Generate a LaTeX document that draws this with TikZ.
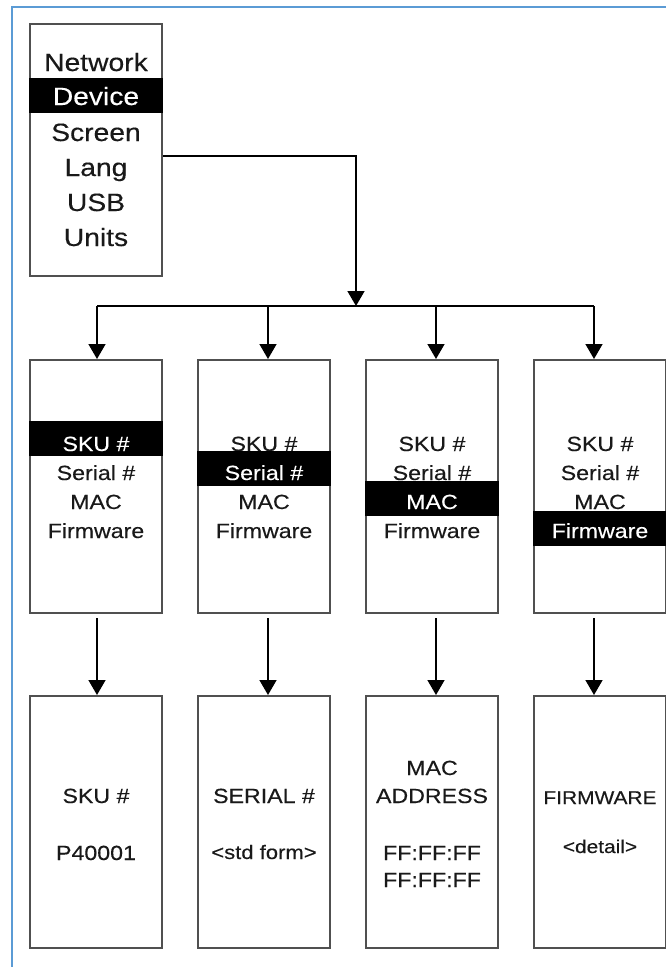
\documentclass[tikz,border=0pt]{standalone}
\usepackage{fontspec}
\setmainfont{Liberation Sans}[FakeStretch=1.13,FakeBold=0.3]
\usetikzlibrary{arrows.meta,calc}
\definecolor{framebl}{RGB}{91,155,213}
\definecolor{boxgray}{RGB}{80,80,80}
\definecolor{txtc}{RGB}{25,25,25}
\begin{document}
\begin{tikzpicture}[x=1pt,y=-1pt,
  box/.style={draw=boxgray,line width=2pt,fill=white,minimum width=132pt,inner sep=0pt},
  menubox/.style={box,minimum height=252pt},
  selbox/.style={box,minimum height=253pt},
  infobox/.style={box,minimum height=252pt},
  bigtxt/.style={anchor=base,inner sep=0pt,text=txtc,font=\fontsize{25}{30}\selectfont},
  midtxt/.style={anchor=base,inner sep=0pt,text=txtc,font=\fontsize{20.5}{24}\selectfont},
  smtxt/.style={anchor=base,inner sep=0pt,text=txtc,font=\fontsize{18.5}{22}\selectfont},
  inv/.style={text=white},
  bar/.style={fill=black},
  conn/.style={draw=black,line width=1.5pt},
  arr/.style={conn,-{Triangle[width=17pt,length=15pt]}}
]
\useasboundingbox (0,0) rectangle (665,967);
% outer frame
\draw[framebl,line width=2pt] (12,975) -- (12,7) -- (675,7);

% menu box
\node[menubox] (menu) at (96,150) {};
\node[bigtxt] (mNet) at (96,71) {Network};
\node[bigtxt] (mScr) at (96,141) {Screen};
\node[bigtxt] (mLang) at (96,176) {Lang};
\node[bigtxt] (mUSB) at (96,211) {USB};
\node[bigtxt] (mUnits) at (96,246) {Units};
\fill[bar] ($(menu.west)+(0,-72)$) rectangle ($(menu.east)+(0,-37)$);
\node[bigtxt,inv] (mDev) at (96,105) {Device};

% selection boxes
\foreach \i/\x in {1/96,2/264,3/432,4/600}{
  \node[selbox] (d\i) at (\x,486.5) {};
  \node[infobox] (e\i) at (\x,822) {};
}
% texts in selection boxes and bars
\foreach \i/\x in {1/96,2/264,3/432,4/600}{
  \node[midtxt] (s\i a) at (\x,451) {SKU \#};
  \node[midtxt] (s\i b) at (\x,480) {Serial \#};
  \node[midtxt] (s\i c) at (\x,509) {MAC};
  \node[midtxt] (s\i d) at (\x,538) {Firmware};
}
\fill[bar] (d1.west |- 0,421) rectangle (d1.east |- 0,456);
\node[midtxt,inv] (h1) at (96,451) {SKU \#};
\fill[bar] (d2.west |- 0,451) rectangle (d2.east |- 0,486);
\node[midtxt,inv] (h2) at (264,480) {Serial \#};
\fill[bar] (d3.west |- 0,481) rectangle (d3.east |- 0,516);
\node[midtxt,inv] (h3) at (432,509) {MAC};
\fill[bar] (d4.west |- 0,511) rectangle (d4.east |- 0,546);
\node[midtxt,inv] (h4) at (600,538) {Firmware};

% info boxes texts
\node[midtxt] (i1a) at (96,803) {SKU \#};
\node[midtxt] (i1b) at (96,860) {P40001};
\node[midtxt] (i2a) at (264,803) {SERIAL \#};
\node[midtxt,font=\fontsize{19.5}{24}\selectfont] (i2b) at (264,859) {<std form>};
\node[midtxt] (i3a) at (432,775) {MAC};
\node[midtxt] (i3b) at (432,803) {ADDRESS};
\node[midtxt] (i3c) at (432,860) {FF:FF:FF};
\node[midtxt] (i3d) at (432,887) {FF:FF:FF};
\node[smtxt] (i4a) at (600,804) {FIRMWARE};
\node[smtxt] (i4b) at (600,853) {<detail>};

% connectors
\coordinate (busin) at (356,306);
\coordinate (b1) at (97,306);
\coordinate (b2) at (268,306);
\coordinate (b3) at (436,306);
\coordinate (b4) at (594,306);
\draw[arr] ($(menu.east)+(0,6)$) -| (busin);
\draw[conn] (b1) -- (b4);
\foreach \i in {1,2,3,4}{
  \draw[arr] (b\i) -- (b\i |- d\i.north);
  \coordinate (t\i) at ($(b\i |- d\i.south)+(0,4)$);
  \draw[arr] (t\i) -- (t\i |- e\i.north);
}
\end{tikzpicture}
\end{document}
